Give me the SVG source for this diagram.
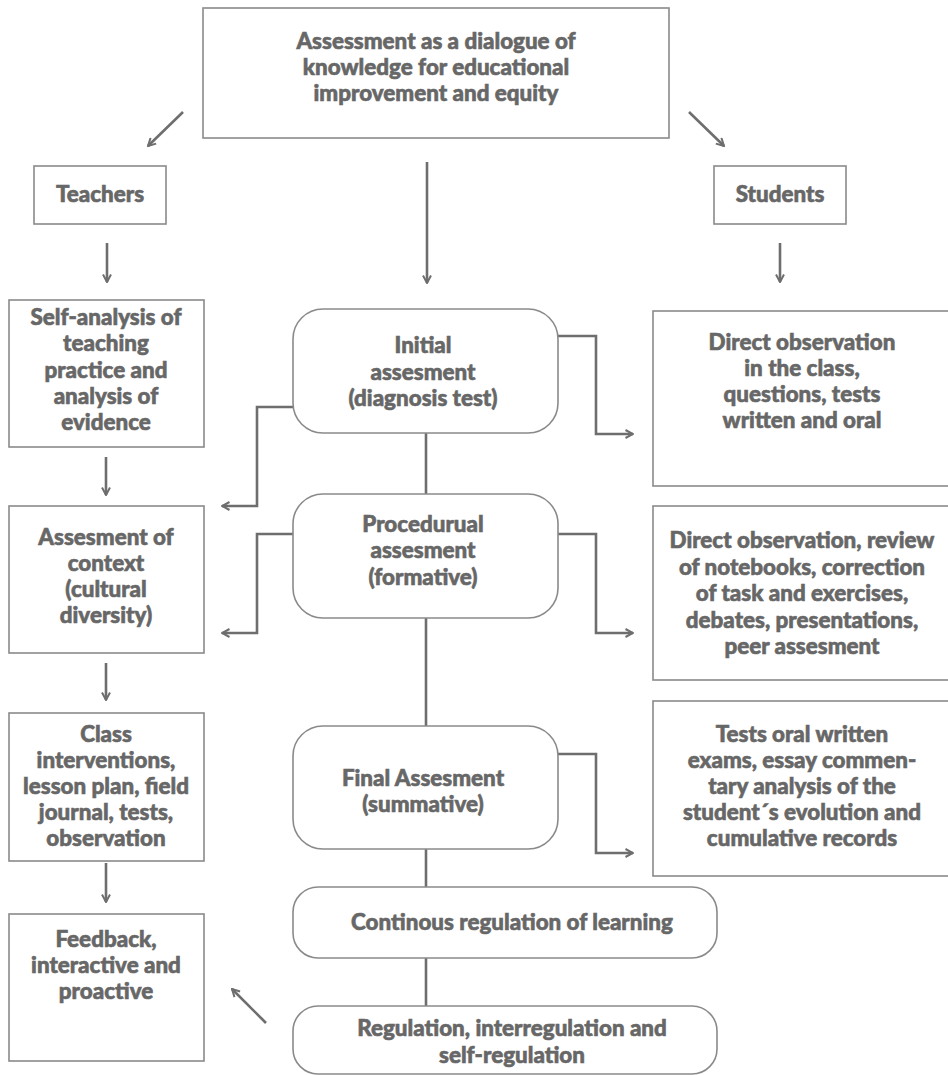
<svg xmlns="http://www.w3.org/2000/svg" width="948" height="1075" viewBox="0 0 948 1075">
<style>
.box{fill:#fff;stroke:#8a8a8a;stroke-width:1.6}
.t{font-family:Lato,"Liberation Sans",sans-serif;font-weight:900;font-size:22.4px;fill:#676767;stroke:#676767;stroke-width:0.6;text-anchor:middle}
.c{fill:none;stroke:#6e6e6e;stroke-width:2.6}
.a{marker-end:url(#ah)}
</style>
<defs>
<marker id="ah" viewBox="0 0 10 10" refX="9" refY="5" markerWidth="10" markerHeight="10" markerUnits="userSpaceOnUse" orient="auto">
<path d="M1.5,1 L9,5 L1.5,9" fill="none" stroke="#6e6e6e" stroke-width="2"/>
</marker>
</defs>
<rect width="948" height="1075" fill="#fff"/>
<g id="connectors">
<line class="c a" x1="183" y1="112" x2="148" y2="146"/>
<line class="c a" x1="689" y1="112" x2="724" y2="146"/>
<line class="c a" x1="427" y1="162" x2="427" y2="283"/>
<line class="c a" x1="107" y1="243" x2="107" y2="282"/>
<line class="c a" x1="780" y1="243" x2="780" y2="282"/>
<line class="c a" x1="106" y1="457" x2="106" y2="495"/>
<line class="c a" x1="106" y1="663" x2="106" y2="700"/>
<line class="c a" x1="106" y1="863" x2="106" y2="902"/>
<polyline class="c a" points="558,336 596,336 596,434 633,434"/>
<polyline class="c a" points="293,407 257,407 257,506 222,506"/>
<polyline class="c a" points="558,534 596,534 596,633 633,633"/>
<polyline class="c a" points="293,534 257,534 257,633 222,633"/>
<polyline class="c a" points="558,754 596,754 596,853 633,853"/>
<line class="c" x1="426" y1="433" x2="426" y2="494"/>
<line class="c" x1="426" y1="618" x2="426" y2="726"/>
<line class="c" x1="426" y1="849" x2="426" y2="887"/>
<line class="c" x1="426" y1="958" x2="426" y2="1006"/>
<line class="c a" x1="266" y1="1023" x2="232" y2="989"/>
</g>
<g id="top">
<rect class="box" x="203" y="8" width="466" height="130"/>
<text class="t" x="436" y="49">Assessment as a dialogue of</text>
<text class="t" x="436" y="75">knowledge for educational</text>
<text class="t" x="436" y="101">improvement and equity</text>
</g>
<g id="teachers">
<rect class="box" x="34" y="166" width="132" height="58"/>
<text class="t" x="100" y="202">Teachers</text>
</g>
<g id="students">
<rect class="box" x="714" y="166" width="132" height="58"/>
<text class="t" x="780" y="202">Students</text>
</g>
<g id="self-analysis">
<rect class="box" x="9" y="300" width="195" height="147"/>
<text class="t" x="106" y="325">Self-analysis of</text>
<text class="t" x="106" y="351">teaching</text>
<text class="t" x="106" y="378">practice and</text>
<text class="t" x="106" y="404">analysis of</text>
<text class="t" x="106" y="430">evidence</text>
</g>
<g id="context">
<rect class="box" x="9" y="506" width="195" height="147"/>
<text class="t" x="106" y="545">Assesment of</text>
<text class="t" x="106" y="571">context</text>
<text class="t" x="106" y="597">(cultural</text>
<text class="t" x="106" y="623">diversity)</text>
</g>
<g id="class">
<rect class="box" x="9" y="713" width="195" height="148"/>
<text class="t" x="106" y="742">Class</text>
<text class="t" x="106" y="768">interventions,</text>
<text class="t" x="106" y="794">lesson plan, field</text>
<text class="t" x="106" y="820">journal, tests,</text>
<text class="t" x="106" y="846">observation</text>
</g>
<g id="feedback">
<rect class="box" x="9" y="914" width="195" height="147"/>
<text class="t" x="106" y="947">Feedback,</text>
<text class="t" x="106" y="973">interactive and</text>
<text class="t" x="106" y="999">proactive</text>
</g>
<g id="initial">
<rect class="box" x="293" y="309" width="265" height="124" rx="30"/>
<text class="t" x="423" y="353">Initial</text>
<text class="t" x="423" y="380">assesment</text>
<text class="t" x="423" y="406">(diagnosis test)</text>
</g>
<g id="procedural">
<rect class="box" x="293" y="494" width="265" height="124" rx="30"/>
<text class="t" x="423" y="532">Procedurual</text>
<text class="t" x="423" y="558">assesment</text>
<text class="t" x="423" y="585">(formative)</text>
</g>
<g id="final">
<rect class="box" x="293" y="726" width="265" height="123" rx="30"/>
<text class="t" x="423" y="786">Final Assesment</text>
<text class="t" x="423" y="812">(summative)</text>
</g>
<g id="continous">
<rect class="box" x="293" y="887" width="424" height="71" rx="25"/>
<text class="t" x="512" y="930">Continous regulation of learning</text>
</g>
<g id="regulation">
<rect class="box" x="293" y="1006" width="424" height="68" rx="25"/>
<text class="t" x="512" y="1036">Regulation, interregulation and</text>
<text class="t" x="512" y="1063">self-regulation</text>
</g>
<g id="students-initial">
<rect class="box" x="653" y="311" width="298" height="175"/>
<text class="t" x="802" y="350">Direct observation</text>
<text class="t" x="802" y="376">in the class,</text>
<text class="t" x="802" y="402">questions, tests</text>
<text class="t" x="802" y="428">written and oral</text>
</g>
<g id="students-procedural">
<rect class="box" x="653" y="506" width="298" height="174"/>
<text class="t" x="802" y="548">Direct observation, review</text>
<text class="t" x="802" y="575">of notebooks, correction</text>
<text class="t" x="802" y="601">of task and exercises,</text>
<text class="t" x="802" y="628">debates, presentations,</text>
<text class="t" x="802" y="654">peer assesment</text>
</g>
<g id="students-final">
<rect class="box" x="653" y="701" width="298" height="175"/>
<text class="t" x="802" y="742">Tests oral written</text>
<text class="t" x="802" y="768">exams, essay commen-</text>
<text class="t" x="802" y="794">tary analysis of the</text>
<text class="t" x="802" y="820">student´s evolution and</text>
<text class="t" x="802" y="846">cumulative records</text>
</g>
</svg>
